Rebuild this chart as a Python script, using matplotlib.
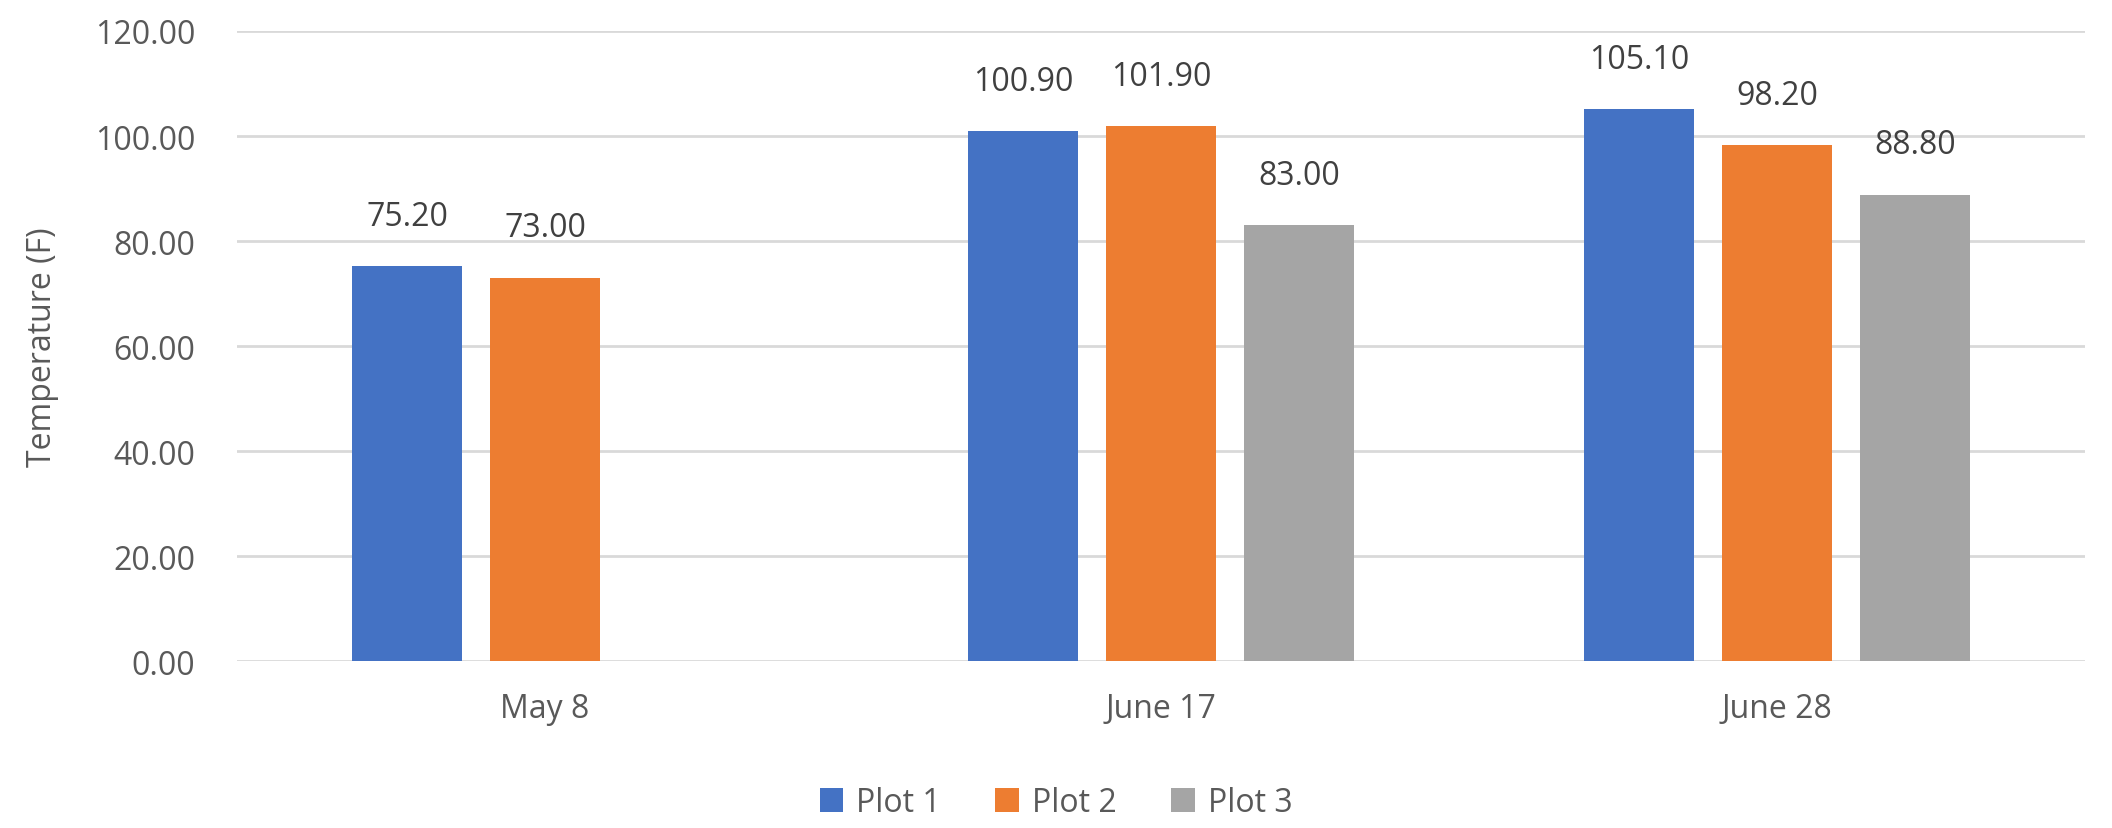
import matplotlib.pyplot as plt
import numpy as np

plt.rcParams['font.family'] = ['Open Sans', 'DejaVu Sans']

dates = ['May 8', 'June 17', 'June 28']
plot1 = [75.2, 100.9, 105.1]
plot2 = [73.0, 101.9, 98.2]
plot3 = [np.nan, 83.0, 88.8]
series_names = ['Plot 1', 'Plot 2', 'Plot 3']
colors = ['#4472C4', '#ED7D31', '#A5A5A5']

fig = plt.figure(figsize=(21.12, 8.29), dpi=100)
ax = fig.add_axes([0.1122, 0.2014, 0.875, 0.76])

x = np.arange(len(dates))
width = 0.178
step = 0.224

for i, (vals, name, c) in enumerate(zip([plot1, plot2, plot3], series_names, colors)):
    pos = x + (i - 1) * step
    bars = ax.bar(pos, vals, width=width, color=c, label=name, zorder=2)
    for b, v in zip(bars, vals):
        if np.isnan(v):
            continue
        ax.annotate(f'{v:.2f}', (b.get_x() + b.get_width() / 2, v),
                    xytext=(0, 24), textcoords='offset points',
                    ha='center', va='bottom', fontsize=23, color='#404040')

ax.set_xlim(-0.5, 2.5)
ax.set_ylim(0, 120)
ax.set_yticks(np.arange(0, 121, 20))
ax.set_yticklabels([f'{t:.2f}' for t in np.arange(0, 121, 20)])
ax.set_xticks(x)
ax.set_xticklabels(dates)
ax.tick_params(axis='both', length=0, labelsize=23, labelcolor='#595959')
ax.tick_params(axis='y', pad=30)
ax.tick_params(axis='x', pad=22)
ax.grid(axis='y', color='#D9D9D9', linewidth=2, zorder=0)
for s in ax.spines.values():
    s.set_visible(False)
ax.set_ylabel('Temperature (F)', fontsize=23, color='#595959', labelpad=26)

fig.legend(loc='lower center', bbox_to_anchor=(0.5, -0.024), ncol=3, frameon=False,
           fontsize=23, labelcolor='#595959', handlelength=0.75, handleheight=0.75,
           handletextpad=0.4, columnspacing=1.7)

fig.savefig('out.png', dpi=100)
